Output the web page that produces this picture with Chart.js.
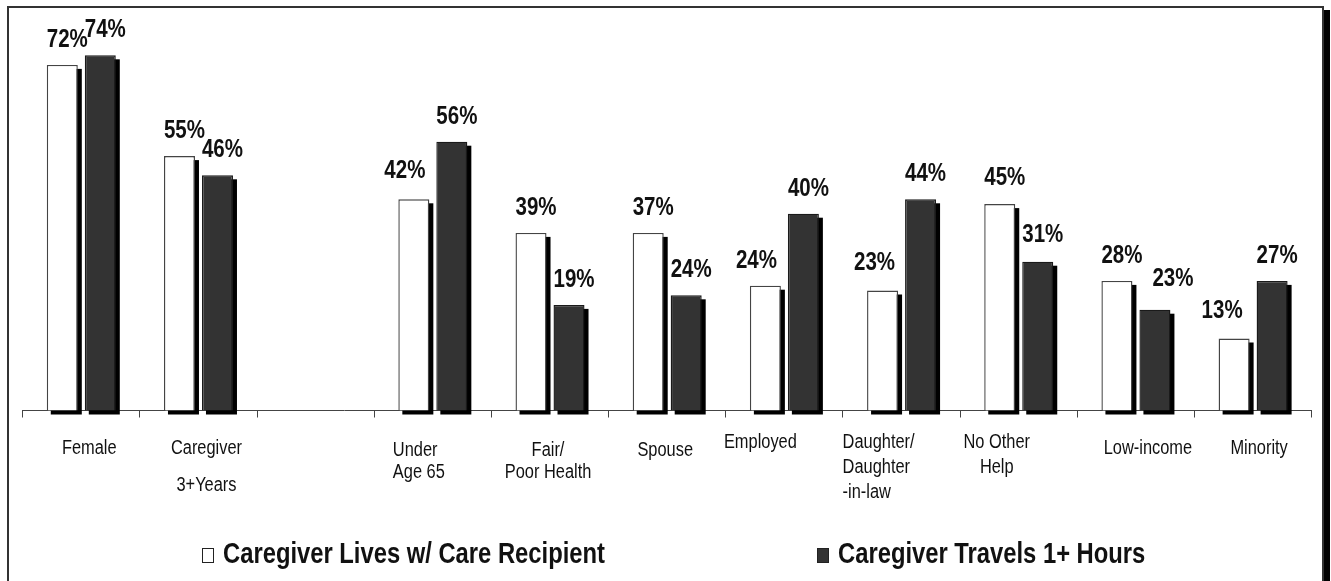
<!DOCTYPE html>
<html>
<head>
<meta charset="utf-8">
<title>Caregiver characteristics</title>
<script src="https://cdn.jsdelivr.net/npm/chart.js@4.4.1/dist/chart.umd.min.js"></script>
<style>
  html, body { margin: 0; padding: 0; background: #fff; overflow: hidden; }
  .frame {
    position: absolute; left: 7px; top: 6px; width: 1313px; height: 700px;
    border: 2px solid #333; box-shadow: 6px 4px 0 #000; background: #fff;
  }
  #chart { position: absolute; left: 0; top: 0; }
</style>
</head>
<body>
<div class="frame"></div>
<canvas id="chart" width="1331" height="581"></canvas>
<script>
// categories (multi-line labels as shown under the axis)
const categories = [
  ["Female"],
  ["Caregiver", "3+Years"],
  [""],
  ["Under", "Age 65"],
  ["Fair/", "Poor Health"],
  ["Spouse"],
  ["Employed"],
  ["Daughter/", "Daughter", "-in-law"],
  ["No Other", "Help"],
  ["Low-income"],
  ["Minority"]
];

const seriesNames = ["Caregiver Lives w/ Care Recipient", "Caregiver Travels 1+ Hours"];

// bar heights as drawn in the picture (%)
const livesWith = [72, 53, null, 44, 37, 37, 26, 25, 43, 27, 15];
const travels   = [74, 49, null, 56, 22, 24, 41, 44, 31, 21, 27];

// printed value labels
const livesLabels   = ["72%", "55%", "", "42%", "39%", "37%", "24%", "23%", "45%", "28%", "13%"];
const travelsLabels = ["74%", "46%", "", "56%", "19%", "24%", "40%", "44%", "31%", "23%", "27%"];

// no narrow face installed, so squeeze Liberation Sans (Arial metrics) like Arial Narrow
const FONT = "'Liberation Sans', Arimo, Arial, sans-serif";
const SQUEEZE = 0.82;
const INK = "#111";

// small hand nudges for the printed labels
const valueNudge = [
  [null, null, null, { dx: -14, dy: -3 }, null, null, { dx: -14 }, { dx: -13, dy: -3 }, { dy: -1 }, null, { dx: -17, dy: -3 }],
  [null, null, null, null, null, null, null, null, { dy: -2 }, { dx: 13, dy: -6 }, null]
];
const catLayout = [
  { dx: 8, top: 454, lh: 22 },
  { dx: 8, top: 454, lh: 37 },
  { dx: 0, top: 454, lh: 22 },
  { dx: -40, top: 456, lh: 21.5, align: "left" },
  { dx: -2, top: 456, lh: 21.5 },
  { dx: -2, top: 456, lh: 22 },
  { dx: -24, top: 448, lh: 22 },
  { dx: -59, top: 448, lh: 25, align: "left" },
  { dx: -22, top: 448, lh: 25 },
  { dx: 12, top: 454, lh: 22 },
  { dx: 6, top: 454, lh: 22 }
];

function narrowText(ctx, text, x, y, align) {
  const w = ctx.measureText(text).width * SQUEEZE;
  let left = x;
  if (align === "center") left = x - w / 2;
  else if (align === "right") left = x - w;
  ctx.save();
  ctx.translate(left, y);
  ctx.scale(SQUEEZE, 1);
  ctx.textAlign = "left";
  ctx.fillText(text, 0, 0);
  ctx.restore();
  return w;
}

const barShadow = {
  id: "barShadow",
  beforeDatasetsDraw(chart) {
    const ctx = chart.ctx;
    ctx.save();
    ctx.fillStyle = "#000";
    chart.data.datasets.forEach((ds, i) => {
      chart.getDatasetMeta(i).data.forEach((bar, j) => {
        if (ds.data[j] == null) return;
        const h = bar.base - bar.y;
        ctx.fillRect(bar.x - bar.width / 2 + 4, bar.y + 4, bar.width, h);
      });
    });
    ctx.restore();
  }
};

const valueLabels = {
  id: "valueLabels",
  afterDatasetsDraw(chart) {
    const ctx = chart.ctx;
    const texts = [livesLabels, travelsLabels];
    ctx.save();
    ctx.font = "bold 25px " + FONT;
    ctx.fillStyle = INK;
    ctx.textBaseline = "alphabetic";
    chart.data.datasets.forEach((ds, i) => {
      chart.getDatasetMeta(i).data.forEach((bar, j) => {
        const t = texts[i][j];
        if (!t) return;
        const n = valueNudge[i][j] || {};
        narrowText(ctx, t, bar.x - bar.width / 2 + (n.dx || 0), bar.y - 18 + (n.dy || 0), "left");
      });
    });
    ctx.restore();
  }
};

const categoryLabels = {
  id: "categoryLabels",
  afterDraw(chart) {
    const ctx = chart.ctx;
    const xs = chart.scales.x;
    ctx.save();
    ctx.font = "20px " + FONT;
    ctx.fillStyle = INK;
    ctx.textBaseline = "alphabetic";
    categories.forEach((lines, i) => {
      const L = catLayout[i];
      const x = xs.getPixelForValue(i) + L.dx;
      lines.forEach((line, k) => narrowText(ctx, line, x, L.top + k * L.lh, L.align || "center"));
    });
    ctx.restore();
  }
};

const legendRow = {
  id: "legendRow",
  afterDraw(chart) {
    const ctx = chart.ctx;
    const spots = [202, 817];
    ctx.save();
    ctx.font = "bold 29px " + FONT;
    ctx.textBaseline = "alphabetic";
    chart.data.datasets.forEach((ds, i) => {
      const x = spots[i];
      ctx.fillStyle = ds.backgroundColor;
      ctx.fillRect(x, 548, 12, 15);
      ctx.strokeStyle = "#222";
      ctx.lineWidth = 1;
      ctx.strokeRect(x + 0.5, 548.5, 11, 14);
      ctx.fillStyle = INK;
      narrowText(ctx, ds.label, x + 21, 563, "left");
    });
    ctx.restore();
  }
};

new Chart(document.getElementById("chart").getContext("2d"), {
  type: "bar",
  data: {
    labels: categories,
    datasets: [
      {
        label: seriesNames[0],
        data: livesWith,
        backgroundColor: "#ffffff",
        borderColor: "#444",
        borderWidth: 1.4,
        clip: false
      },
      {
        label: seriesNames[1],
        data: travels,
        backgroundColor: "#333333",
        borderColor: "#1a1a1a",
        borderWidth: 1.4,
        clip: false
      }
    ]
  },
  options: {
    responsive: false,
    devicePixelRatio: 1,
    animation: false,
    categoryPercentage: 0.6485,
    barPercentage: 0.816,
    layout: { padding: { left: 22.7, right: 19.3, top: 26.5, bottom: 163.5 } },
    plugins: { legend: { display: false }, tooltip: { enabled: false } },
    scales: {
      x: {
        ticks: { display: false },
        grid: { offset: true, drawOnChartArea: false, drawTicks: true, tickLength: 7, color: "#444", lineWidth: 1 },
        border: { display: true, color: "#444", width: 1 },
        afterFit: (s) => { s.height = 7; }
      },
      y: { display: false, min: 0, max: 80 }
    }
  },
  plugins: [barShadow, valueLabels, categoryLabels, legendRow]
});
</script>
</body>
</html>
